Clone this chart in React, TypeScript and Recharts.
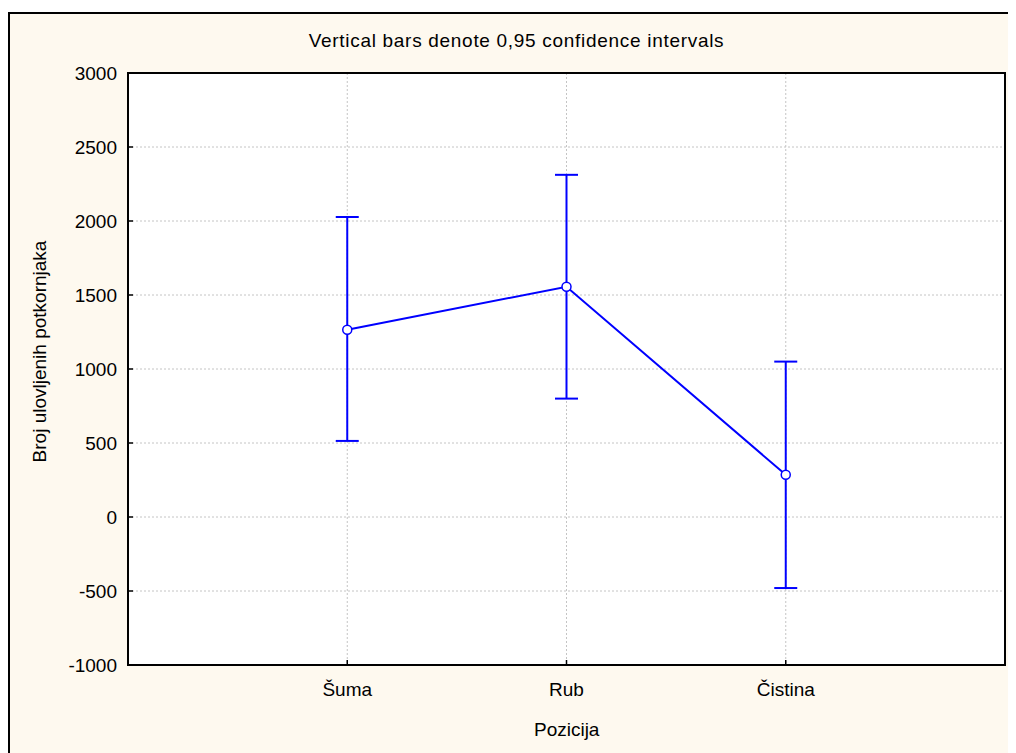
import React from "react";
import {
  ComposedChart,
  Line,
  ErrorBar,
  XAxis,
  YAxis,
  CartesianGrid,
} from "recharts";

// kategorije i vrijednosti (srednja vrijednost, granice 95% CI)
const categories = ["Šuma", "Rub", "Čistina"];
const means = [1265, 1556, 285];
const lowerCI = [514, 800, -480];
const upperCI = [2027, 2312, 1050];
const yTicks = [-1000, -500, 0, 500, 1000, 1500, 2000, 2500, 3000];

const data = categories.map((name, i) => ({
  name,
  pos: i + 1,
  mean: means[i],
  ci: [means[i] - lowerCI[i], upperCI[i] - means[i]],
}));

const FONT = "'Liberation Sans', Arial, sans-serif";
const BLUE = "#0000ff";

export default function App() {
  return (
    <div
      style={{
        position: "relative",
        marginTop: 4,
        width: 1008,
        height: 741,
        background: "#fef9ef",
        fontFamily: FONT,
      }}
    >
      <ComposedChart
        width={1008}
        height={741}
        data={data}
        margin={{ top: 61, right: 11, left: 60, bottom: 58 }}
      >
        <CartesianGrid
          fill="#ffffff"
          stroke="#c4c4c4"
          strokeDasharray="2 2"
        />
        <XAxis
          type="number"
          dataKey="pos"
          domain={[0, 4]}
          ticks={[1, 2, 3]}
          tickFormatter={(v) => categories[v - 1]}
          height={30}
          axisLine={false}
          tickSize={-5}
          tickMargin={23}
          tickLine={{ stroke: "#000", strokeWidth: 1.5 }}
          tick={{ fill: "#000", fontSize: 19, fontFamily: FONT }}
        />
        <YAxis
          type="number"
          domain={[-1000, 3000]}
          ticks={yTicks}
          width={60}
          axisLine={false}
          tickSize={-5}
          tickMargin={16}
          tickLine={{ stroke: "#000", strokeWidth: 1.5 }}
          tick={{ fill: "#000", fontSize: 19, fontFamily: FONT }}
          interval={0}
        />
        <Line
          type="linear"
          dataKey="mean"
          stroke={BLUE}
          strokeWidth={2}
          dot={{ r: 4.5, fill: "#fff", stroke: BLUE, strokeWidth: 1.5 }}
          activeDot={false}
          isAnimationActive={false}
        >
          <ErrorBar
            dataKey="ci"
            direction="y"
            width={11.5}
            stroke={BLUE}
            strokeWidth={2}
            isAnimationActive={false}
          />
        </Line>
      </ComposedChart>

      {/* okvir crteža */}
      <div
        style={{
          position: "absolute",
          left: 119,
          top: 60,
          width: 879,
          height: 594,
          boxSizing: "border-box",
          border: "2px solid #000",
          pointerEvents: "none",
        }}
      />
      {/* vanjski okvir */}
      <div
        style={{
          position: "absolute",
          left: 0,
          top: 0,
          width: 1008,
          height: 741,
          boxSizing: "border-box",
          borderLeft: "2px solid #000",
          borderTop: "2px solid #000",
          pointerEvents: "none",
        }}
      />

      <svg
        width={1008}
        height={741}
        style={{ position: "absolute", left: 0, top: 0, pointerEvents: "none" }}
      >
        <text
          x={508.5}
          y={34.7}
          textAnchor="middle"
          fontSize={19}
          letterSpacing={0.7}
          fontFamily={FONT}
          fill="#000"
        >
          Vertical bars denote 0,95 confidence intervals
        </text>
        <text
          x={558.7}
          y={724}
          textAnchor="middle"
          fontSize={19}
          fontFamily={FONT}
          fill="#000"
        >
          Pozicija
        </text>
        <text
          transform="translate(31,339.5) rotate(-90)"
          textAnchor="middle"
          dy="0.35em"
          fontSize={19}
          fontFamily={FONT}
          fill="#000"
        >
          Broj ulovljenih potkornjaka
        </text>
      </svg>
    </div>
  );
}
